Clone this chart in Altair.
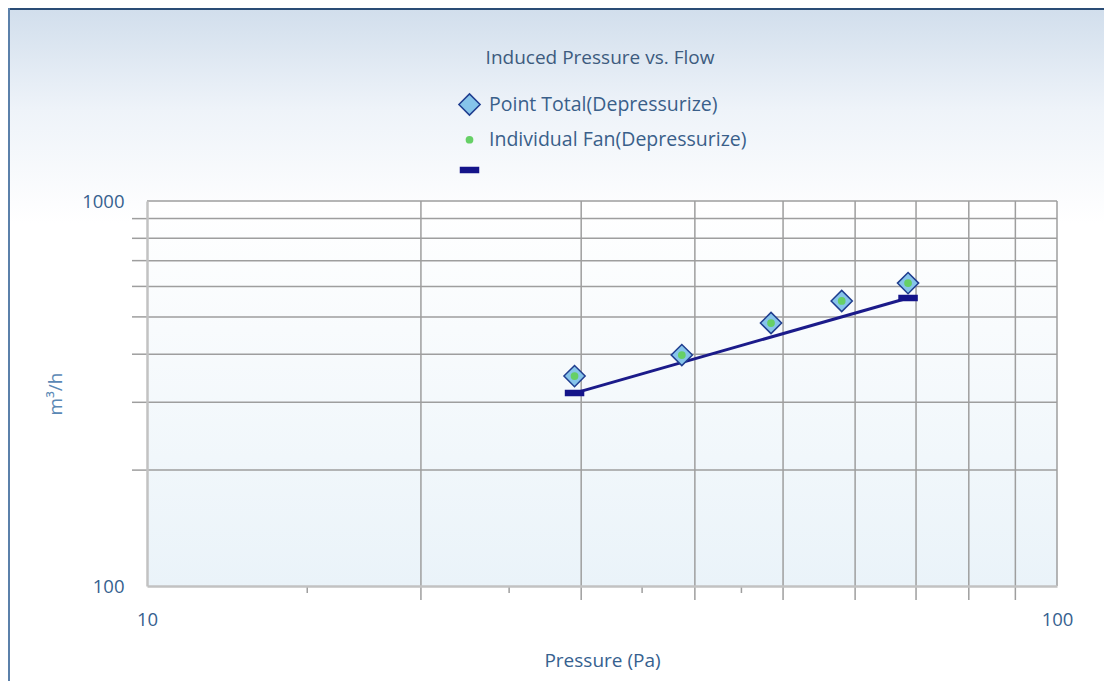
import altair as alt
import pandas as pd

# ---- data ----
pressure = [29.5, 38.7, 48.5, 58.0, 68.6]
flow_total = [351, 398, 482, 550, 612]
flow_fan = [351, 398, 482, 550, 612]
fit_pressure = [29.5, 68.6]
fit_flow = [317, 560]
series_names = ["Point Total(Depressurize)", "Individual Fan(Depressurize)", "Fit"]

x_major = [20, 30, 40, 50, 60, 70, 80, 90]
x_grid = x_major + [100]
x_minor = [15, 25, 35, 45]
x_labels = [10, 100]
y_major = [200, 300, 400, 500, 600, 700, 800, 900]
y_grid = y_major + [1000]
y_labels = [100, 1000]

title_text = "Induced Pressure vs. Flow"
x_title = "Pressure (Pa)"
y_title = "m³/h"

W, H = 910, 385
FONT = "Open Sans"
GRID = "#9e9e9e"
TEXT = "#36618f"

xscale = alt.Scale(type="log", domain=[10, 100], nice=False)
yscale = alt.Scale(type="log", domain=[100, 1000], nice=False)

xaxis = alt.Axis(values=x_labels, grid=False, ticks=False, domainColor="#c2c2c2", domainWidth=2.5,
                 labelFont=FONT, labelFontSize=18.5, labelColor=TEXT, labelPadding=24,
                 labelFlush=False, labelOverlap=False, title=x_title, titleFont=FONT,
                 titleFontSize=19, titleFontWeight="normal", titleColor=TEXT, titleY=74,
                 titleBaseline="middle", zindex=1, format="d")
yaxis = alt.Axis(values=y_labels, grid=False, ticks=False, domainColor="#c2c2c2", domainWidth=2.5,
                 labelFont=FONT, labelFontSize=18.5, labelColor=TEXT, labelPadding=23,
                 labelFlush=False, labelOverlap=False, title=y_title, titleFont=FONT,
                 titleFontSize=19, titleFontWeight="normal", titleColor="#5a88b5",
                 titleX=-92, titleY=H / 2, titleAngle=-90, titleAlign="center",
                 titleBaseline="middle", zindex=1, format="d")

xenc = alt.X("x:Q", scale=xscale, axis=xaxis)
yenc = alt.Y("y:Q", scale=yscale, axis=yaxis)

one = pd.DataFrame({"k": [0]})

outer_grad = alt.LinearGradient(gradient="linear", x1=0, x2=0, y1=0, y2=1, stops=[
    alt.GradientStop(color="#d1deec", offset=0),
    alt.GradientStop(color="#eef3f9", offset=0.15),
    alt.GradientStop(color="#ffffff", offset=0.32),
    alt.GradientStop(color="#ffffff", offset=1)])
plot_grad = alt.LinearGradient(gradient="linear", x1=0, x2=0, y1=0, y2=1, stops=[
    alt.GradientStop(color="#ffffff", offset=0),
    alt.GradientStop(color="#eaf3f9", offset=1)])

bg = alt.Chart(one).mark_rect(fill=outer_grad).encode(
    x=alt.value(-139), x2=alt.value(W + 47), y=alt.value(-193), y2=alt.value(H + 95))
plotbg = alt.Chart(one).mark_rect(fill=plot_grad).encode(
    x=alt.value(0), x2=alt.value(W), y=alt.value(0), y2=alt.value(H))
border_top = alt.Chart(one).mark_rule(color="#2a4c75", strokeWidth=2).encode(
    x=alt.value(-139), x2=alt.value(W + 47), y=alt.value(-192))
border_left = alt.Chart(one).mark_rule(color="#5b80aa", strokeWidth=2).encode(
    x=alt.value(-138), y=alt.value(-193), y2=alt.value(H + 95))

xgrid = alt.Chart(pd.DataFrame({"x": x_grid})).mark_rule(color=GRID, strokeWidth=1.5).encode(x=xenc)
ygrid = alt.Chart(pd.DataFrame({"y": y_grid})).mark_rule(color=GRID, strokeWidth=1.5).encode(y=yenc)
xticks_major = alt.Chart(pd.DataFrame({"x": x_major})).mark_rule(color=GRID, strokeWidth=1.5).encode(
    x=xenc, y=alt.value(H), y2=alt.value(H + 14))
xticks_minor = alt.Chart(pd.DataFrame({"x": x_minor})).mark_rule(color=GRID, strokeWidth=1.5).encode(
    x=xenc, y=alt.value(H), y2=alt.value(H + 7))
yticks = alt.Chart(pd.DataFrame({"y": y_major})).mark_rule(color=GRID, strokeWidth=1.5).encode(
    y=yenc, x=alt.value(-15), x2=alt.value(0))

fit_df = pd.DataFrame({"x": fit_pressure, "y": fit_flow})
fit_line = alt.Chart(fit_df).mark_line(color="#1b1b8a", strokeWidth=3).encode(x=xenc, y=yenc)

pts = pd.concat([
    pd.DataFrame({"x": pressure, "y": flow_total, "series": series_names[0]}),
    pd.DataFrame({"x": pressure, "y": flow_fan, "series": series_names[1]}),
    pd.DataFrame({"x": fit_pressure, "y": fit_flow, "series": series_names[2]}),
], ignore_index=True)

leg = alt.Legend(orient="none", legendX=311, legendY=-108, title=None, padding=0,
                 labelFont=FONT, labelFontSize=19.5, labelColor="#3a5f8a", labelLimit=400,
                 labelOffset=8, rowPadding=10, symbolStrokeWidth=1.5,
                 labelExpr="datum.label == 'Fit' ? '' : datum.label")
dash = "M-1,-0.28L1,-0.28L1,0.28L-1,0.28Z"
points = alt.Chart(pts).mark_point(filled=True, opacity=1, strokeWidth=1.5).encode(
    x=xenc, y=yenc,
    fill=alt.Fill("series:N", scale=alt.Scale(domain=series_names, range=["#86c4ea", "#66d066", "#14148a"]), legend=leg),
    stroke=alt.Stroke("series:N", scale=alt.Scale(domain=series_names, range=["#1f3d8f", "transparent", "#14148a"]), legend=leg),
    shape=alt.Shape("series:N", scale=alt.Scale(domain=series_names, range=["diamond", "circle", dash]), legend=leg),
    size=alt.Size("series:N", scale=alt.Scale(type="ordinal", domain=series_names, range=[450, 60, 324]), legend=leg),
)

title = alt.Chart(pd.DataFrame({"t": [title_text]})).mark_text(
    font=FONT, fontSize=19, color="#3d5b7e", align="center", baseline="middle").encode(
    text="t:N", x=alt.value(453), y=alt.value(-143))

chart = alt.layer(bg, plotbg, border_top, border_left, xgrid, ygrid, xticks_major, xticks_minor,
                  yticks, fit_line, points, title).properties(
    width=W, height=H, autosize="none",
    padding={"left": 139, "top": 193, "right": 47, "bottom": 95},
).configure_view(stroke=None)

chart.save("out.html", embed_options={"renderer": "svg", "actions": False})
